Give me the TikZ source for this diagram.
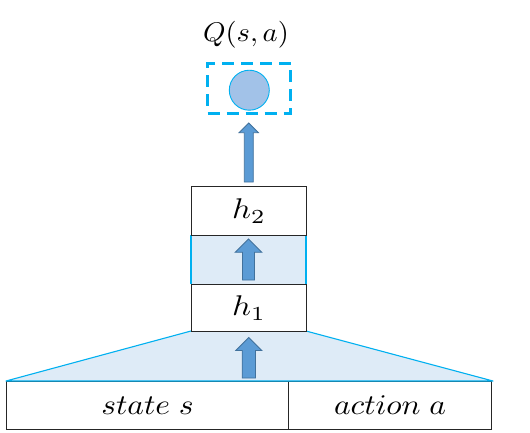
\documentclass[tikz,border=0pt]{standalone}
\usepackage{graphicx}
\definecolor{cyanline}{HTML}{00B0F0}
\definecolor{lightfill}{HTML}{DEEBF7}
\definecolor{arrowfill}{HTML}{5B9BD5}
\definecolor{arrowline}{HTML}{41719C}
\definecolor{circfill}{HTML}{A2C2E8}
\newcommand{\blockup}[5]{% x, ybottom, ytip, shaft half, head half
  \draw[blockarrow] (#1-#4,#2) -- (#1-#4,#3+#5) -- (#1-#5,#3+#5) -- (#1,#3)
    -- (#1+#5,#3+#5) -- (#1+#4,#3+#5) -- (#1+#4,#2) -- cycle;}
% #1 horizontal scale, #2 vertical scale, #3 math text (set at 10pt)
\newcommand{\bigtxt}[3]{\scalebox{#1}[#2]{$#3$}}
\tikzset{
  box/.style={draw=black!85, line width=1.1pt, fill=white, inner sep=0pt, anchor=north west},
  blockarrow/.style={fill=arrowfill, draw=arrowline, line width=0.8pt, line join=miter},
  cyanedge/.style={draw=cyanline, line width=1.1pt},
}
\begin{document}
\begin{tikzpicture}[x=1pt, y=-1pt]
\useasboundingbox (0,0) rectangle (530,432);
% input boxes
\node[box, minimum width=282pt, minimum height=48pt] (state) at (6,381) {\bigtxt{3.15}{2.85}{state\;s}};
\node[box, minimum width=203pt, minimum height=48pt] (action) at (288,381) {\bigtxt{3.15}{2.85}{action\;a}};
% trapezoid
\coordinate (tl) at (191,331);
\coordinate (tr) at (306,331);
\coordinate (bl) at (6,381);
\coordinate (br) at (493,381);
\filldraw[fill=lightfill, cyanedge, line join=round] (bl) -- (tl) -- (tr) -- (br) -- cycle;
% middle shaded band
\fill[lightfill] (191,235) rectangle (306,284);
\draw[cyanedge] (191,235) -- (191,284);
\draw[cyanedge] (306,235) -- (306,284);
% hidden layers
\node[box, minimum width=115pt, minimum height=47pt] (h1) at (191,284) {\bigtxt{3.3}{2.85}{h_1}};
\node[box, minimum width=115pt, minimum height=49pt] (h2) at (191,186) {\bigtxt{3.3}{2.85}{h_2}};
% output
\node[draw=cyanline, line width=3pt, dash pattern=on 12pt off 7pt, minimum width=83pt, minimum height=50pt, inner sep=0pt] (out) at (249,88) {};
\node[circle, draw=cyanline, line width=0.9pt, fill=circfill, minimum size=40pt, inner sep=0pt] (q) at (249.3,90.2) {};
\node[anchor=base, inner sep=0pt] (qlabel) at (246,41) {\bigtxt{2.85}{2.7}{Q(s,a)}};
% block arrows
\blockup{248.8}{182}{123}{4.5}{9.7}
\blockup{248.5}{280}{239}{6}{13.3}
\blockup{248.8}{378}{337.5}{6.6}{13}
\end{tikzpicture}
\end{document}
